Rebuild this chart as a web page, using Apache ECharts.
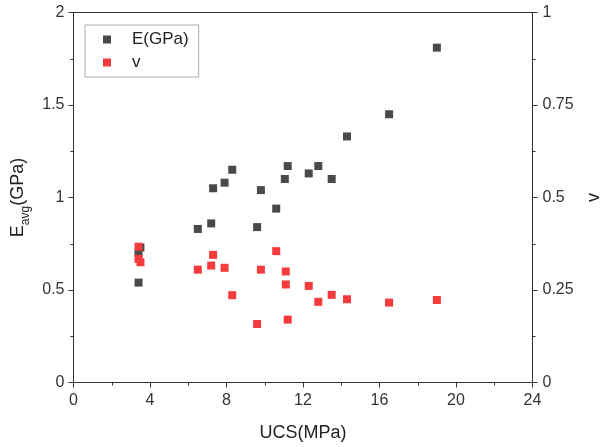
<!DOCTYPE html>
<html>
<head>
<meta charset="utf-8">
<script src="https://cdn.jsdelivr.net/npm/echarts@6/dist/echarts.min.js"></script>
</head>
<body style="margin:0">
<div id="main" style="width:600px;height:447px"></div>
<script>
// E (GPa) vs UCS (MPa)
var eUcs = [3.4, 3.4, 3.5, 6.5, 7.2, 7.3, 7.9, 8.3, 9.6, 9.8, 10.6, 11.05, 11.2, 12.3, 12.8, 13.5, 14.3, 16.5, 19.0];
var eVal = [0.54, 0.70, 0.73, 0.83, 0.86, 1.05, 1.08, 1.15, 0.84, 1.04, 0.94, 1.10, 1.17, 1.13, 1.17, 1.10, 1.33, 1.45, 1.81];
// v vs UCS (MPa)
var vUcs = [3.4, 3.4, 3.5, 6.5, 7.2, 7.3, 7.9, 8.3, 9.6, 9.8, 10.6, 11.1, 11.1, 11.2, 12.3, 12.8, 13.5, 14.3, 16.5, 19.0];
var vVal = [0.367, 0.334, 0.325, 0.305, 0.316, 0.345, 0.310, 0.236, 0.158, 0.305, 0.355, 0.300, 0.265, 0.170, 0.261, 0.218, 0.237, 0.225, 0.216, 0.223];

function pairs(xs, ys) {
  return xs.map(function (x, i) { return [x, ys[i]]; });
}

var font = 'Liberation Sans, Arial, sans-serif';
var tick = {show: true, inside: false, length: 5, lineStyle: {color: '#333'}};
var minor = {show: true, splitNumber: 2, length: 3, lineStyle: {color: '#333'}};
var chart = echarts.init(document.getElementById('main'));
chart.setOption({
  animation: false,
  textStyle: {fontFamily: font},
  grid: {left: 73.5, right: 67.5, top: 12.5, bottom: 64.5, outerBoundsMode: 'none', containLabel: false,
         show: true, borderColor: '#333', borderWidth: 1},
  legend: {
    orient: 'vertical', left: 85, top: 25,
    padding: [6, 10, 6, 18], itemGap: 6,
    borderColor: '#aaa', borderWidth: 1,
    itemWidth: 8, itemHeight: 8,
    textStyle: {fontSize: 17, color: '#222', padding: [0, 0, 0, 16]},
    data: [{name: 'E(GPa)', icon: 'rect'}, {name: 'v', icon: 'rect'}]
  },
  xAxis: {
    type: 'value', min: 0, max: 24, interval: 4,
    name: 'UCS(MPa)', nameLocation: 'middle', nameGap: 42,
    nameTextStyle: {fontSize: 18, color: '#222'},
    axisLine: {lineStyle: {color: '#333'}},
    axisTick: tick, minorTick: minor,
    axisLabel: {fontSize: 16, color: '#333', margin: 10},
    splitLine: {show: false}
  },
  yAxis: [{
    type: 'value', min: 0, max: 2, interval: 0.5, position: 'left',
    name: 'E{s|avg}(GPa)', nameLocation: 'middle', nameGap: 38, nameRotate: 90,
    nameTextStyle: {fontSize: 18, color: '#222', rich: {s: {fontSize: 12, verticalAlign: 'bottom', padding: [0, 0, -4, 0]}}},
    axisLine: {show: true, lineStyle: {color: '#333'}},
    axisTick: tick, minorTick: minor,
    axisLabel: {fontSize: 16, color: '#333', margin: 9},
    splitLine: {show: false}
  }, {
    type: 'value', min: 0, max: 1, interval: 0.25, position: 'right',
    name: 'v', nameLocation: 'middle', nameGap: 50, nameRotate: 90,
    nameTextStyle: {fontSize: 18, color: '#222'},
    axisLine: {show: true, lineStyle: {color: '#333'}},
    axisTick: tick, minorTick: minor,
    axisLabel: {fontSize: 16, color: '#333', margin: 10},
    splitLine: {show: false}
  }],
  series: [{
    name: 'E(GPa)', type: 'scatter', yAxisIndex: 0,
    symbol: 'rect', symbolSize: 8,
    itemStyle: {color: '#4a4a4a', opacity: 1},
    data: pairs(eUcs, eVal)
  }, {
    name: 'v', type: 'scatter', yAxisIndex: 1,
    symbol: 'rect', symbolSize: 8,
    itemStyle: {color: '#f53b3b', opacity: 1},
    data: pairs(vUcs, vVal)
  }]
});
</script>
</body>
</html>
